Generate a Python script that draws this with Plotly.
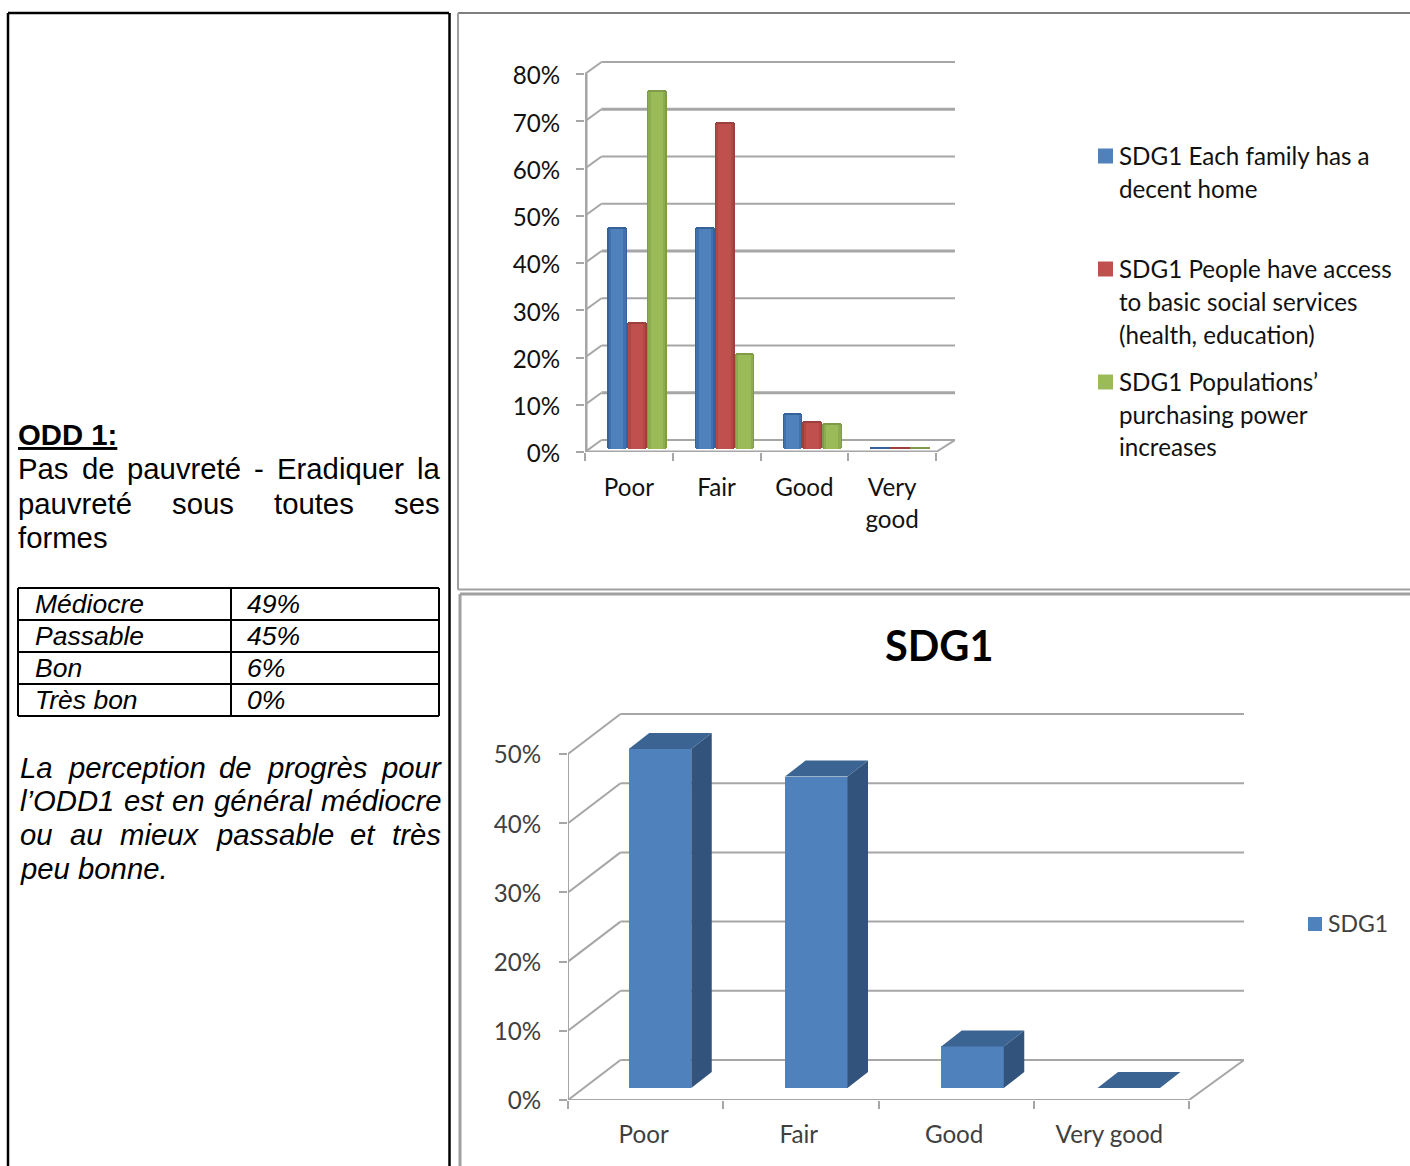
import plotly.graph_objects as go

# ---------- data ----------
CATS_TOP = ["Poor", "Fair", "Good", "Very<br>good"]
CATS_BOTTOM = ["Poor", "Fair", "Good", "Very good"]
HOME = [46.5, 46.5, 7.2, 0]
SERVICES = [26.5, 68.8, 5.5, 0]
PURCHASING = [75.5, 20, 5, 0]
SDG1 = [49, 45, 6, 0]
TOP_TICKS = [0, 10, 20, 30, 40, 50, 60, 70, 80]
TOP_GRID_WIDTHS = [2, 3, 2, 2, 3, 2, 2, 3, 2]
BOTTOM_TICKS = [0, 10, 20, 30, 40, 50]
TABLE_LABELS = ["Médiocre", "Passable", "Bon", "Très bon"]
TABLE_VALUES = ["49%", "45%", "6%", "0%"]
LEGEND_TOP = [
    ["SDG1 Each family has a", "decent home"],
    ["SDG1 People have access", "to basic social services", "(health, education)"],
    ["SDG1 Populations’", "purchasing power", "increases"],
]

W, H = 1410, 1166
BLUE, RED, GREEN = "#4f81bd", "#c0504d", "#9bbb59"
EDGE = {BLUE: "#366299", RED: "#9c403d", GREEN: "#7f9a48"}
MID = {BLUE: "#4272ad", RED: "#b04845", GREEN: "#8dac50"}
GRID = "#a6a6a6"
SANS = "Liberation Sans"
CAL = "Lato"
LAB = 24.2
BODY = 29.3


def X(px):
    return px / W


def Y(py):
    return 1 - py / H


fig = go.Figure()
shapes = []
ann = []


def pline(x0, y0, x1, y1, color="black", width=2):
    shapes.append(dict(type="line", xref="paper", yref="paper", x0=X(x0), x1=X(x1),
                       y0=Y(y0), y1=Y(y1), line=dict(color=color, width=width)))


def text(px, py, s, size=BODY, family=SANS, color="black", anchor="left"):
    ann.append(dict(xref="paper", yref="paper", x=X(px), y=Y(py), text=s, showarrow=False,
                    xanchor=anchor, yanchor="middle", borderpad=0, borderwidth=0,
                    font=dict(family=family, size=size, color=color)))


# ---------- page frame ----------
pline(8, 13, 8, 1166, width=2.5)
pline(8, 13, 449, 13, width=2.5)
pline(449.5, 13, 449.5, 1166, width=2.5)
pline(458, 13, 1410, 13, color="#555555", width=1.5)
pline(458, 13, 458, 589.5, color="#a0a0a0", width=2)
pline(458, 589.5, 1410, 589.5, color="#a0a0a0", width=2)
pline(460, 594, 1410, 594, color="#a0a0a0", width=3)
pline(460, 594, 460, 1166, color="#a0a0a0", width=3)

# ---------- left column ----------
text(18, 434.5, "<b><u>ODD 1:</u></b>")
for s, px in zip(["Pas", "de", "pauvreté", "-", "Eradiquer", "la"], [18, 81.5, 127, 254, 277, 417]):
    text(px, 469, s)
for s, px in zip(["pauvreté", "sous", "toutes", "ses"], [18, 172, 274, 394]):
    text(px, 503, s)
text(18, 537, "formes")

rows = [588, 620, 652, 684, 716]
for r in rows:
    pline(18, r, 439, r)
for c in [18, 231, 439]:
    pline(c, rows[0], c, rows[-1])
for i, (a, b) in enumerate(zip(TABLE_LABELS, TABLE_VALUES)):
    yc = (rows[i] + rows[i + 1]) / 2
    text(35, yc, f"<i>{a}</i>", size=26.5)
    text(247, yc, f"<i>{b}</i>", size=26.5)

for s, px in zip(["La", "perception", "de", "progrès", "pour"], [20, 67.5, 219, 267, 381]):
    text(px, 767, f"<i>{s}</i>")
for s, px in zip(["l’ODD1", "est", "en", "général", "médiocre"], [20, 123.5, 172, 213.5, 320.5]):
    text(px, 800, f"<i>{s}</i>")
for s, px in zip(["ou", "au", "mieux", "passable", "et", "très"], [20, 70, 120, 215.5, 350, 392]):
    text(px, 834, f"<i>{s}</i>")
text(20, 868, "<i>peu bonne.</i>")

# ---------- top chart: pixel geometry -> data units ----------
T_X0, T_UX = 585, 87.75
T_Y0, T_UY = 452, 4.725
T_XMAX = (955 - T_X0) / T_UX
T_YMAX = (60 - T_Y0) / -T_UY
T_DX, T_DY = 16.5 / T_UX, 12 / T_UY


def gshape(xr, yr, x0, y0, x1, y1, color=GRID, width=2):
    shapes.append(dict(type="line", xref=xr, yref=yr, x0=x0, y0=y0, x1=x1, y1=y1,
                       layer="below", line=dict(color=color, width=width)))


for v, gw in zip(TOP_TICKS, TOP_GRID_WIDTHS):
    gshape("x", "y", 0, v, T_DX, v + T_DY)
    gshape("x", "y", T_DX, v + T_DY, T_XMAX, v + T_DY, width=gw)
gshape("x", "y", 0.012, 0, 0.012, TOP_TICKS[-1], width=3)
gshape("x", "y", 0, 0, len(CATS_TOP), 0, width=3)
gshape("x", "y", len(CATS_TOP), 0, T_XMAX, T_DY)

T_BW = 19.8 / T_UX
T_SHIFT = 8 / T_UX
T_BASE = 3 / T_UY
for s, (vals, col) in enumerate([(HOME, BLUE), (SERVICES, RED), (PURCHASING, GREEN)]):
    xs = [i + 0.5 + T_SHIFT + (s - 1) * T_BW for i in range(len(vals))]
    cap = [v + 2 / T_UY for v in vals]
    common = dict(x=xs, base=T_BASE, xaxis="x", yaxis="y", showlegend=False)
    fig.add_trace(go.Bar(y=cap, width=T_BW, marker=dict(color=EDGE[col], line_width=0, cornerradius=3),
                         hoverinfo="skip", **common))
    fig.add_trace(go.Bar(y=vals, width=T_BW * 0.86, marker=dict(color=MID[col], line_width=0),
                         hoverinfo="skip", **common))
    fig.add_trace(go.Bar(y=vals, width=T_BW * 0.62, marker=dict(color=col, line_width=0),
                         name=LEGEND_TOP[s][0], **common))

# legend of top chart
for ys, lines, col in zip([156, 269, 382], LEGEND_TOP, [BLUE, RED, GREEN]):
    shapes.append(dict(type="rect", xref="paper", yref="paper", x0=X(1098), x1=X(1113), y0=Y(ys + 7.5), y1=Y(ys - 7.5),
                       fillcolor=col, line_width=0))
    for k, line in enumerate(lines):
        text(1119, ys - 1 + k * 33, line, size=LAB, family=CAL, color="#111111")

# ---------- bottom chart ----------
B_X0, B_UX = 568, 155.25
B_Y0, B_UY = 1100, 6.92
B_XMAX = (1244 - B_X0) / B_UX
B_YMAX = (712 - B_Y0) / -B_UY
B_DX, B_DY = 52.5 / B_UX, 40 / B_UY

for v in BOTTOM_TICKS:
    gshape("x2", "y2", 0, v, B_DX, v + B_DY)
    gshape("x2", "y2", B_DX, v + B_DY, B_XMAX, v + B_DY)
gshape("x2", "y2", 0, 0, 0, BOTTOM_TICKS[-1])
gshape("x2", "y2", 0, 0, len(CATS_BOTTOM), 0)
gshape("x2", "y2", len(CATS_BOTTOM), 0, B_XMAX, B_DY)

B_BW = 62.5 / B_UX
B_FIRST = (660 - B_X0) / B_UX
B_PITCH = 156.25 / B_UX
B_BASE = 12 / B_UY
BAR_DX, BAR_DY = 20.5 / B_UX, 16 / B_UY
bx = [B_FIRST + i * B_PITCH for i in range(len(SDG1))]
fig.add_trace(go.Bar(x=bx, y=SDG1, base=B_BASE, width=B_BW, name="SDG1", marker=dict(color=BLUE, line_width=0),
                     xaxis="x2", yaxis="y2", showlegend=False))
sx, sy, tx, ty = [], [], [], []
for c, v in zip(bx, SDG1):
    l, r = c - B_BW / 2, c + B_BW / 2
    t = B_BASE + v
    sx += [r, r + BAR_DX, r + BAR_DX, r, r, None]
    sy += [B_BASE, B_BASE + BAR_DY, t + BAR_DY, t, B_BASE, None]
    tx += [l, l + BAR_DX, r + BAR_DX, r, l, None]
    ty += [t, t + BAR_DY, t + BAR_DY, t, t, None]
fig.add_trace(go.Scatter(x=sx, y=sy, fill="toself", fillcolor="#32547c", mode="none", xaxis="x2", yaxis="y2",
                         showlegend=False, hoverinfo="skip"))
fig.add_trace(go.Scatter(x=tx, y=ty, fill="toself", fillcolor="#3c6492", mode="none", xaxis="x2", yaxis="y2",
                         showlegend=False, hoverinfo="skip"))

text(939, 645, "<b>SDG1</b>", size=41.5, family=CAL, color="black", anchor="center")
shapes.append(dict(type="rect", xref="paper", yref="paper", x0=X(1308), x1=X(1322), y0=Y(931), y1=Y(917),
                   fillcolor=BLUE, line_width=0))
text(1328, 923, "SDG1", size=23, family=CAL, color="#404040")


def xaxis(dom, rng, labels, tickcol, color, standoff, shift):
    n = len(labels)
    return dict(domain=dom, range=rng, showgrid=False, zeroline=False, showline=False, automargin=False,
                tickmode="array", tickvals=[i + 0.5 for i in range(n)], ticktext=labels, ticks="",
                ticklabelstandoff=standoff, ticklabelshift=shift,
                tickfont=dict(family=CAL, size=LAB, color=color),
                minor=dict(tickmode="array", tickvals=list(range(n + 1)), ticks="outside", ticklen=8,
                           tickwidth=2, tickcolor=tickcol, showgrid=False))


def yaxis(dom, rng, vals, tickcol, color, standoff, shift):
    return dict(domain=dom, range=rng, showgrid=False, zeroline=False, showline=False, automargin=False,
                tickmode="array", tickvals=vals, ticktext=[f"{v}%" for v in vals], ticks="outside",
                ticklen=8, tickwidth=2, tickcolor=tickcol, ticklabelstandoff=standoff, ticklabelshift=shift,
                tickfont=dict(family=CAL, size=LAB, color=color))


fig.update_layout(
    width=W, height=H, margin=dict(l=0, r=0, t=0, b=0), barmode="overlay", bargap=0,
    paper_bgcolor="white", plot_bgcolor="rgba(0,0,0,0)", showlegend=False,
    shapes=shapes, annotations=ann,
    xaxis=xaxis([X(T_X0), X(955)], [0, T_XMAX], CATS_TOP, GRID, "#111111", 19, 0) | dict(anchor="y"),
    yaxis=yaxis([Y(T_Y0), Y(60)], [0, T_YMAX], TOP_TICKS, GRID, "#111111", 11, 2) | dict(anchor="x"),
    xaxis2=xaxis([X(B_X0), X(1244)], [0, B_XMAX], CATS_BOTTOM, GRID, "#404040", 18, -2) | dict(anchor="y2"),
    yaxis2=yaxis([Y(B_Y0), Y(712)], [0, B_YMAX], BOTTOM_TICKS, GRID, "#404040", 13, 1) | dict(anchor="x2"),
)

fig.write_html("out.html", config=dict(displayModeBar=False),
               post_script="document.body.style.margin='0';document.body.style.overflow='hidden';")
